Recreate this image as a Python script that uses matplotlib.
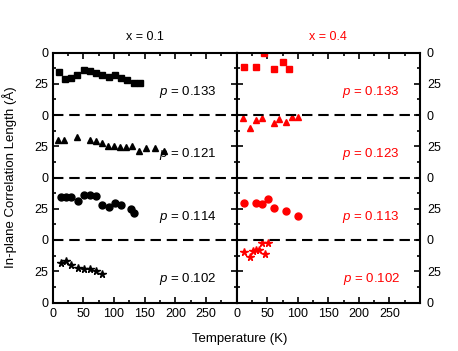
import numpy as np
import matplotlib
matplotlib.use("Agg")
import matplotlib.pyplot as plt
from matplotlib.ticker import MultipleLocator, FixedLocator, FixedFormatter

plt.rcParams['font.family'] = ['Liberation Sans', 'DejaVu Sans']
plt.rcParams['mathtext.fontset'] = 'custom'
plt.rcParams['mathtext.it'] = 'Liberation Sans:italic'
plt.rcParams['mathtext.rm'] = 'Liberation Sans'
plt.rcParams['font.size'] = 9

# band offsets: each doping p sits in its own 50 A band
offsets = [150, 100, 50, 0]
markers = ['s', '^', 'o', '*']
msizes = [4.5, 5, 5, 5.5]

# x = 0.1 (black)
p_01 = ['0.133', '0.121', '0.114', '0.102']
T_01 = [
    [11, 20, 30, 40, 51, 61, 71, 81, 91, 101, 112, 121, 132, 142],
    [8, 19, 40, 60, 70, 80, 90, 100, 110, 120, 130, 140, 152, 166, 182],
    [13, 21, 30, 41, 51, 61, 71, 81, 91, 101, 112, 127, 133],
    [14, 22, 30, 41, 51, 61, 71, 81],
]
L_01 = [
    [34.6, 28.8, 29.3, 32.0, 36.3, 35.2, 33.3, 31.7, 30.7, 32.0, 29.9, 27.7, 25.3, 25.3],
    [30.0, 30.0, 32.1, 30.0, 29.2, 27.9, 25.2, 25.2, 24.7, 24.1, 25.2, 21.5, 23.3, 23.3, 21.5],
    [34.2, 34.7, 34.7, 31.2, 35.7, 35.7, 35.2, 27.7, 26.4, 29.3, 27.7, 24.5, 21.9],
    [31.9, 33.2, 30.0, 27.9, 26.5, 27.0, 25.2, 22.5],
]

# x = 0.4 (red)
p_04 = ['0.133', '0.123', '0.113', '0.102']
T_04 = [
    [12, 31, 45, 61, 75, 86],
    [11, 21, 31, 41, 61, 70, 81, 90, 101],
    [12, 31, 41, 51, 61, 81, 101],
    [12, 21, 27, 31, 36, 41, 46, 51],
]
L_04 = [
    [38.1, 38.1, 49.8, 36.5, 42.1, 36.8],
    [47.3, 39.3, 46.0, 47.3, 43.3, 46.5, 44.4, 48.1, 48.1],
    [29.9, 29.9, 28.5, 32.5, 25.9, 23.5, 19.5],
    [40.7, 36.7, 41.5, 42.0, 42.0, 47.9, 38.5, 47.9],
]

fig = plt.figure(figsize=(4.58, 3.51), dpi=100)
W, H = 458, 351
ax1 = fig.add_axes([52.7 / W, 1 - 302.5 / H, 184 / W, 250 / H])
ax2 = fig.add_axes([236.7 / W, 1 - 302.5 / H, 183.3 / W, 250 / H])

ylab_pos = np.arange(0, 201, 25)
ylab_txt = ['0' if v % 50 == 0 else '25' for v in ylab_pos]

for ax, Ts, Ls, ps, col in [(ax1, T_01, L_01, p_01, 'black'), (ax2, T_04, L_04, p_04, 'red')]:
    for T, L, off, m, ms, p in zip(Ts, Ls, offsets, markers, msizes, ps):
        ax.plot(T, np.array(L) + off, linestyle='none', marker=m, ms=ms, color=col)
        ax.text(0.89, (off + 18.6) / 200, '$p$ = ' + p, transform=ax.transAxes,
                ha='right', va='center', color=col, fontsize=9.5)
    for yy in [50, 100, 150]:
        ax.axhline(yy, color='black', lw=1.5, dashes=(5, 2.8))
    ax.set_xlim(0, 300)
    ax.set_ylim(0, 200)
    ax.set_xticks([0, 50, 100, 150, 200, 250])
    ax.xaxis.set_minor_locator(MultipleLocator(25))
    ax.yaxis.set_major_locator(FixedLocator(ylab_pos))
    ax.yaxis.set_major_formatter(FixedFormatter(ylab_txt))
    ax.yaxis.set_minor_locator(MultipleLocator(12.5))
    ax.tick_params(which='both', direction='in', top=True, right=True, left=True, bottom=True,
                   width=1.2, labelsize=9)
    ax.tick_params(which='major', length=4)
    ax.tick_params(which='minor', length=2.5)
    ax.tick_params(axis='x', pad=4)
    for s in ax.spines.values():
        s.set_linewidth(1.5)

ax1.tick_params(axis='y', pad=3)
ax2.tick_params(axis='y', labelleft=False, labelright=True, pad=5)

ax1.set_title('x = 0.1', fontsize=9, color='black', pad=9)
ax2.set_title('x = 0.4', fontsize=9, color='red', pad=9)

fig.text(240 / W, 1 - 339 / H, 'Temperature (K)', ha='center', va='center', fontsize=9.5)
fig.text(10 / W, 1 - 177 / H, 'In-plane Correlation Length (Å)', ha='center', va='center',
         rotation=90, fontsize=9.5)

fig.savefig('out.png', dpi=100)
